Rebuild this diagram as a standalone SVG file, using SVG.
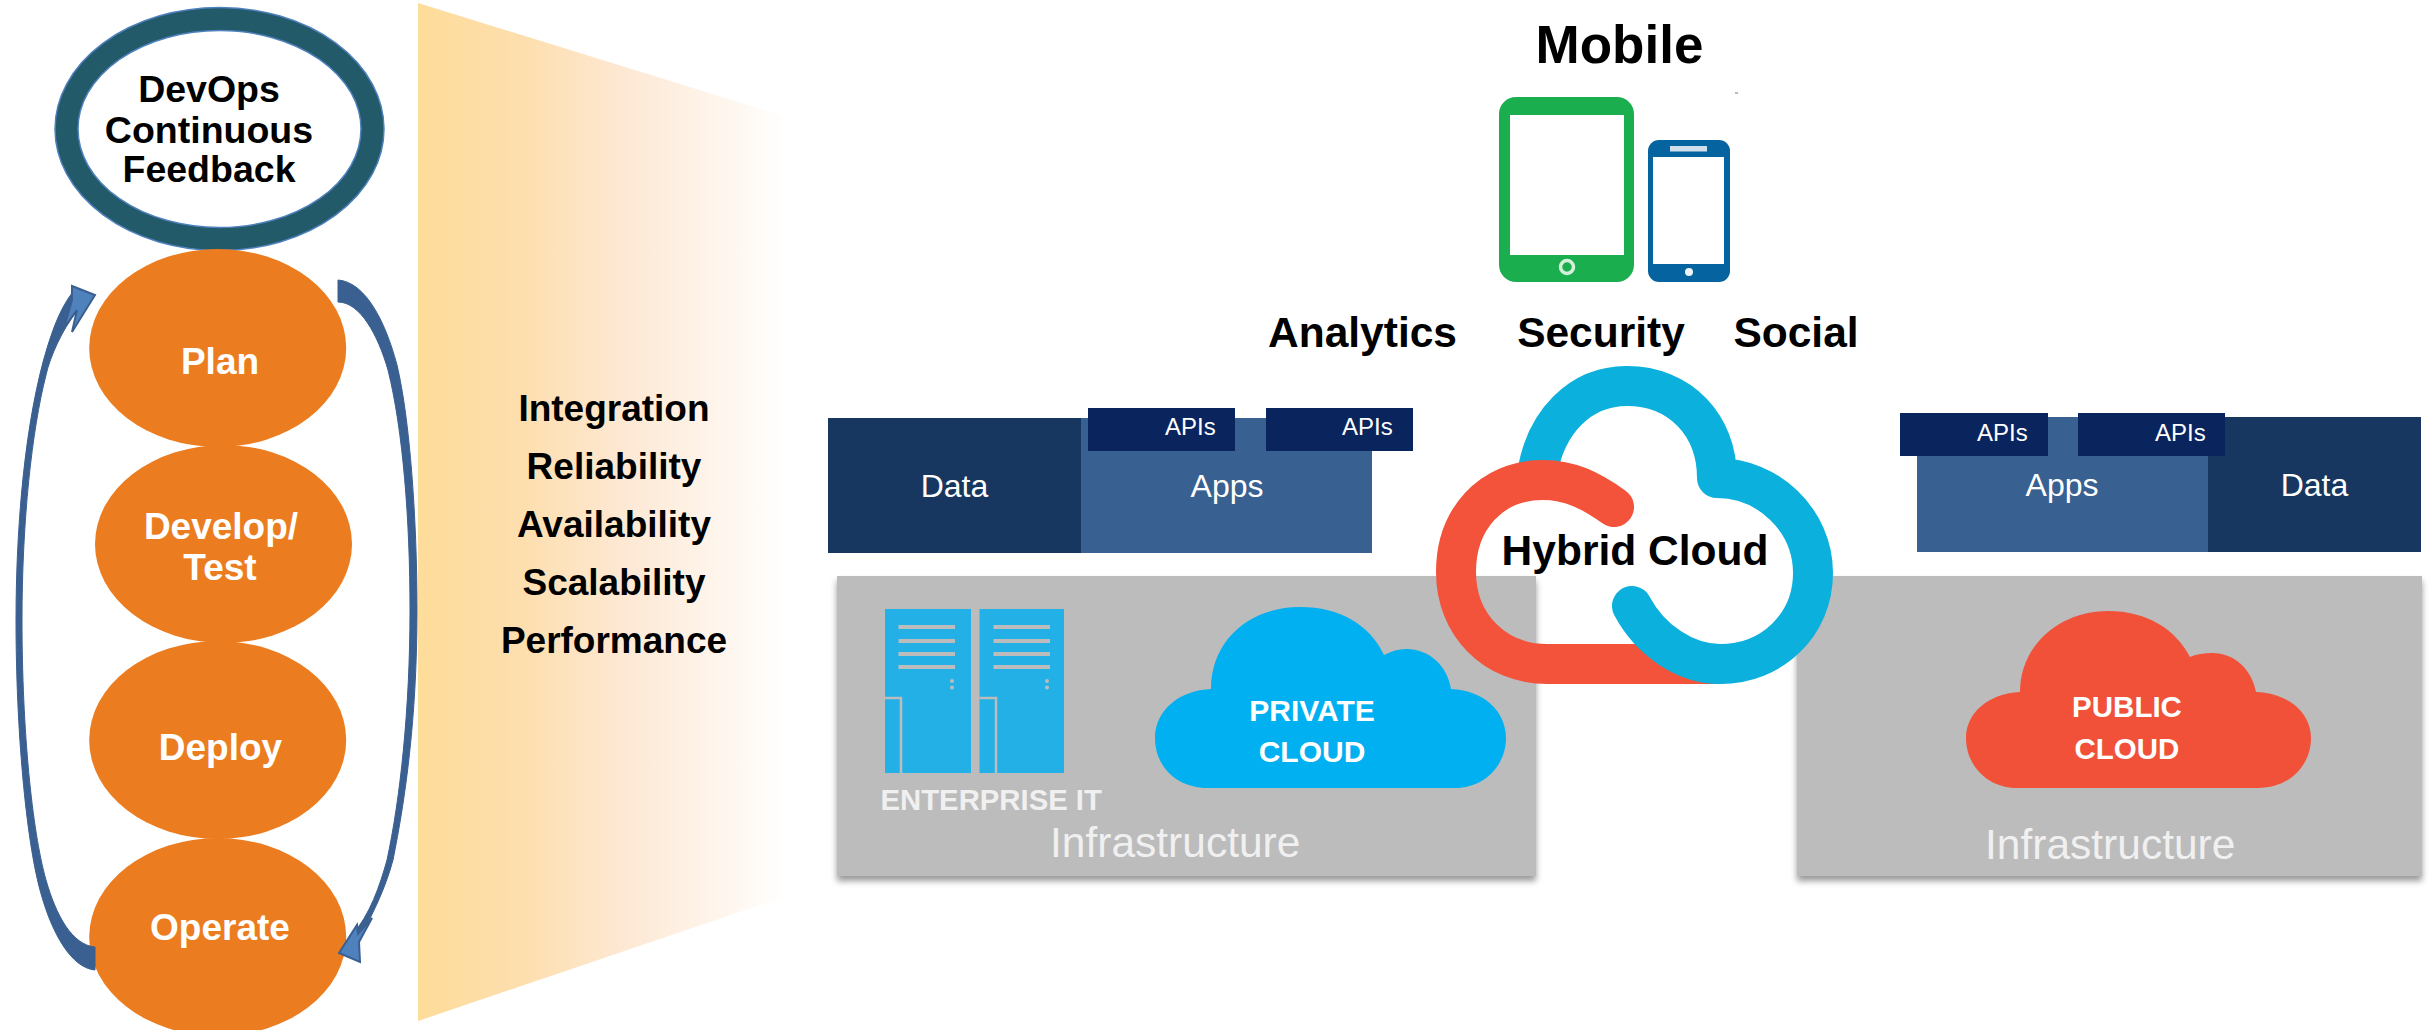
<svg xmlns="http://www.w3.org/2000/svg" width="2432" height="1030" viewBox="0 0 2432 1030">
<style>
text{font-family:"Liberation Sans",Arial,sans-serif}
.b{font-weight:700}
.m{text-anchor:middle}
.w{fill:#fff}
.k{fill:#000}
.st{fill:#eb7c1f}
.st-t{font-size:37px;font-weight:700;fill:#fff;text-anchor:middle}
.navy{fill:#173760}
.app{fill:#386090}
.api{fill:#0a245d}
.gray{fill:#bcbcbc;filter:url(#sh)}
.srv{fill:#23b0e6}
.ln{fill:#bcbcbc}
.door{fill:none;stroke:#bcbcbc;stroke-width:2.5}
.rib{fill:#3a6091;stroke:#3a6091;stroke-width:1}
.head{fill:#4f81bd;stroke:#3a6091;stroke-width:2}
.hb{fill:none;stroke:#0bb0dc;stroke-width:40;stroke-linejoin:round}
.hr{fill:none;stroke:#f2533a;stroke-width:40}
</style>
<defs>
<linearGradient id="fade" gradientUnits="userSpaceOnUse" x1="418" x2="790" y1="0" y2="0"><stop offset="0" stop-color="#fedc99"/><stop offset=".3" stop-color="#fddfb0"/><stop offset=".55" stop-color="#fde8d3"/><stop offset="1" stop-color="#fff"/></linearGradient>
<filter id="sh" x="-3%" y="-3%" width="106%" height="108%"><feDropShadow dx="0" dy="5" stdDeviation="3" flood-color="#000" flood-opacity=".4"/></filter>
</defs>
<rect width="2432" height="1030" fill="#fff"/>
<polygon id="funnel" points="418,3 790,118 790,895 418,1021" fill="url(#fade)"/>
<g id="feedback"><ellipse cx="219.500" cy="129" rx="153" ry="110" fill="#fff" stroke="#225a6a" stroke-width="23"/>
<ellipse cx="219.500" cy="129" rx="164.500" ry="121.500" fill="none" stroke="#4f81bd" stroke-width="1.500"/>
<ellipse cx="219.500" cy="129" rx="141.500" ry="98.500" fill="none" stroke="#4f81bd" stroke-width="1.500"/>
<text class="b k m" font-size="37.500" x="209" y="102">DevOps</text><text class="b k m" font-size="37.500" x="209" y="143">Continuous</text><text class="b k m" font-size="37.500" x="209" y="182">Feedback</text></g>
<g id="operate"><ellipse class="st" cx="217.700" cy="937" rx="128.500" ry="99"/><text class="st-t" x="220" y="940">Operate</text></g>
<g id="deploy"><ellipse class="st" cx="217.700" cy="740" rx="128.500" ry="99"/><text class="st-t" x="220.500" y="760">Deploy</text></g>
<g id="develop"><ellipse class="st" cx="223.500" cy="544" rx="128.500" ry="99"/><text class="st-t" x="221" y="539">Develop/</text><text class="st-t" x="220" y="580">Test</text></g>
<g id="plan"><ellipse class="st" cx="217.700" cy="348" rx="128.500" ry="99"/><text class="st-t" x="220" y="374">Plan</text></g>
<g id="connectors">
<path class="rib" d="M95 970C72 968 52 935 40 890C26 838 16 730 16 620C16 510 28 400 52 333C58 316 64 304 72 293L77 311C62 330 50 357 46 375C32 430 22 520 22 620C22 730 32 830 46 880C56 915 72 945 95 947Z"/>
<path class="head" d="M72 286L95 295L72 332L77 310L64 328L72 300Z"/>
<path class="rib" d="M338 280C365 282 385 320 397 365C410 420 417 520 417 610C417 720 405 800 393 860C385 890 372 915 360 938L352 935C370 915 380 885 387 860C400 800 410 710 410 610C410 520 403 430 388 370C378 335 360 302 338 302Z"/>
<path class="head" d="M339 953L357 925L358 934L372 918L359 942L360 962Z"/>
</g>
<g id="attributes"><text class="b k m" font-size="37" x="614" y="421">Integration</text><text class="b k m" font-size="37" x="614" y="479">Reliability</text><text class="b k m" font-size="37" x="614" y="537">Availability</text><text class="b k m" font-size="37" x="614" y="595">Scalability</text><text class="b k m" font-size="37" x="614" y="653">Performance</text></g>
<g id="mobile"><text class="b k m" font-size="53" x="1619.500" y="63">Mobile</text>
<rect x="1499" y="97" width="135" height="185" rx="17" fill="#1aae4e"/><rect x="1510" y="115" width="114" height="140" fill="#fff"/><circle cx="1567" cy="267" r="6.500" fill="none" stroke="#d5f0da" stroke-width="3.500"/>
<rect x="1648" y="140" width="82" height="142" rx="11" fill="#05639f"/><rect x="1653" y="157" width="71" height="107" fill="#fff"/><rect x="1670" y="146" width="37" height="5.500" fill="#cfe0ec"/><circle cx="1689" cy="272" r="4" fill="#eef5fa"/><rect x="1735" y="92" width="3" height="2" fill="#bbb"/></g>
<text class="b k" font-size="42.500" x="1268" y="346.500">Analytics</text><text class="b k m" font-size="42.500" x="1601" y="346.500">Security</text><text class="b k m" font-size="42.500" x="1796" y="346.500">Social</text>
<g id="left-stack"><rect class="navy" x="828" y="418" width="253" height="135"/><rect class="app" x="1081" y="418" width="291" height="135"/><rect class="api" x="1088" y="408" width="147" height="43"/><rect class="api" x="1266" y="408" width="147" height="43"/>
<text class="w" font-size="24" x="1165" y="435">APIs</text><text class="w" font-size="24" x="1342" y="435">APIs</text><text class="w m" font-size="32" x="954.500" y="497">Data</text><text class="w m" font-size="32" x="1227" y="497">Apps</text></g>
<g id="left-infra"><rect class="gray" x="837" y="576" width="699" height="300"/>
<rect class="srv" x="885" y="609" width="86" height="164"/><rect class="srv" x="979.500" y="609" width="84.500" height="164"/>
<path class="ln" d="M898.500 625h56.500v4h-56.500zM898.500 639h56.500v4h-56.500zM898.500 652h56.500v4h-56.500zM898.500 665h56.500v4h-56.500zM993.500 625h56.500v4h-56.500zM993.500 639h56.500v4h-56.500zM993.500 652h56.500v4h-56.500zM993.500 665h56.500v4h-56.500z"/>
<circle class="ln" cx="952" cy="681" r="2"/><circle class="ln" cx="952" cy="687.500" r="2"/><circle class="ln" cx="1047" cy="681" r="2"/><circle class="ln" cx="1047" cy="687.500" r="2"/>
<path class="door" d="M885 698H901V773M979.500 698H996V773"/>
<text class="b" font-size="29.300" fill="#f0f0f0" x="880.500" y="810">ENTERPRISE IT</text><text font-size="42.500" fill="#f0f0f0" x="1050" y="857">Infrastructure</text></g>
<g id="private-cloud"><path fill="#00b0f0" d="M1208 788C1175 788 1155 765 1155 738C1155 710 1180 690 1211 689C1211 640 1250 607 1300 607C1340 607 1370 625 1384 655C1392 651 1398 649 1406 649C1430 649 1448 667 1451 689C1482 690 1506 710 1506 738C1506 765 1485 788 1455 788Z"/><text class="b w m" font-size="30" x="1312" y="721">PRIVATE</text><text class="b w m" font-size="30" x="1312" y="762">CLOUD</text></g>
<g id="right-stack"><rect class="app" x="1917" y="417" width="291" height="135"/><rect class="navy" x="2208" y="417" width="213" height="135"/><rect class="api" x="1900" y="413" width="148" height="43"/><rect class="api" x="2078" y="413" width="147" height="43"/>
<text class="w" font-size="24" x="1977" y="441">APIs</text><text class="w" font-size="24" x="2155" y="441">APIs</text><text class="w m" font-size="32" x="2062" y="496">Apps</text><text class="w m" font-size="32" x="2314.500" y="496">Data</text></g>
<g id="right-infra"><rect class="gray" x="1797" y="576" width="625" height="300"/><text font-size="42.500" fill="#f0f0f0" x="1985" y="859">Infrastructure</text></g>
<g id="public-cloud"><path fill="#f15139" d="M2017 788C1987 788 1966 765 1966 738C1966 712 1990 693 2020 692C2020 645 2060 611 2108 611C2148 611 2176 630 2190 657C2197 654 2204 653 2212 653C2235 653 2252 670 2256 692C2287 693 2311 712 2311 738C2311 765 2290 788 2258 788Z"/><text class="b w m" font-size="29.500" x="2127" y="717">PUBLIC</text><text class="b w m" font-size="29.500" x="2127" y="759">CLOUD</text></g>
<g id="hybrid-cloud"><path class="hb" d="M1537 475C1545 422 1580 386 1627 386"/><path class="hr" stroke-linecap="round" d="M1614 507C1590 490 1570 480 1543 480C1490 480 1456 520 1456 572C1456 625 1495 664 1547 664L1720 664"/><path class="hb" stroke-linecap="round" d="M1627 386C1680 386 1717 425 1717 478C1768 478 1813 520 1813 573C1813 625 1772 664 1720 664C1685 664 1650 640 1632 606"/><text class="b k m" font-size="42.500" x="1635" y="565">Hybrid Cloud</text></g>
</svg>
